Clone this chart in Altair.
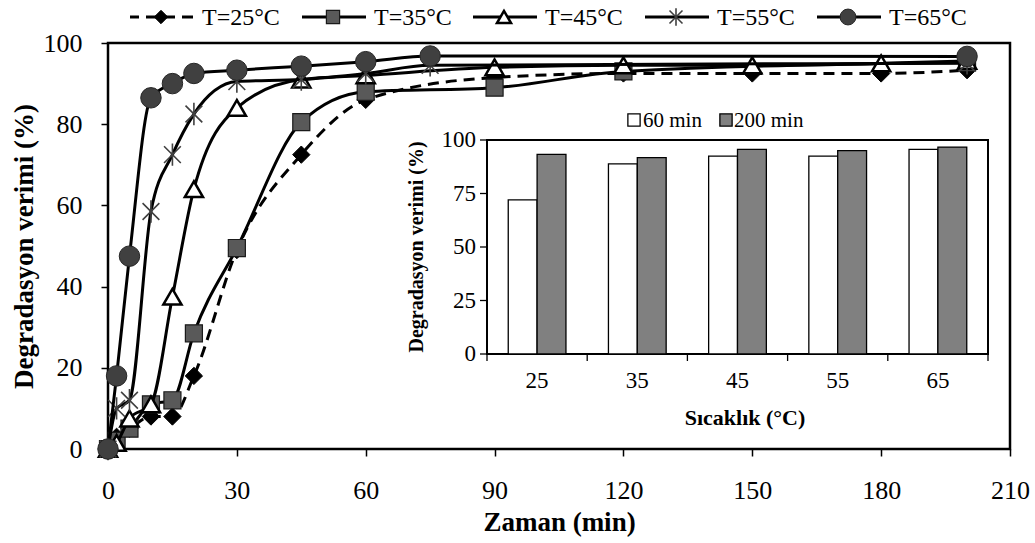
import altair as alt
import pandas as pd

# ---------------- data ----------------
t_25 = [0, 2, 5, 10, 15, 20, 30, 45, 60, 90, 120, 150, 180, 200]
y_25 = [0, 3, 5, 8, 8, 18, 49, 72.5, 86, 91.5, 92.5, 92.5, 92.5, 93.3]
t_35 = [0, 2, 5, 10, 15, 20, 30, 45, 60, 90, 120, 200]
y_35 = [0, 2, 5, 11, 12, 28.5, 49.5, 80.5, 88, 89, 93, 95.2]
t_45 = [0, 2, 5, 10, 15, 20, 30, 45, 60, 90, 120, 150, 180, 200]
y_45 = [0, 1.5, 7.5, 11, 37.5, 64, 84, 91, 92, 94, 94.5, 94.5, 95, 95.6]
t_55 = [0, 2, 5, 10, 15, 20, 30, 45, 60, 75, 200]
y_55 = [0, 10, 12, 58.5, 72.5, 82.5, 90.5, 91, 92.5, 94.5, 95]
t_65 = [0, 2, 5, 10, 15, 20, 30, 45, 60, 75, 200]
y_65 = [0, 18, 47.5, 86.5, 90, 92.5, 93.3, 94.3, 95.4, 96.8, 96.7]
series_labels = ["T=25°C", "T=35°C", "T=45°C", "T=55°C", "T=65°C"]

x_ticks = [0, 30, 60, 90, 120, 150, 180, 210]
y_ticks = [0, 20, 40, 60, 80, 100]

inset_temps = [25, 35, 45, 55, 65]
inset_60 = [72.0, 88.8, 92.5, 92.5, 95.6]
inset_200 = [93.3, 91.8, 95.6, 95.0, 96.7]
inset_series = ["60 min", "200 min"]
inset_y_ticks = [0, 25, 50, 75, 100]
inset_band_edges = [20, 30, 40, 50, 60, 70]

# ---------------- styles ----------------
FONT = "Liberation Serif"
STAR = "M-0.75,-0.75L0.75,0.75M-0.75,0.75L0.75,-0.75M0,-1L0,1"
styles = [
    dict(shape="diamond", size=300, fill="black", stroke="black", sw=1, dash=[11, 7], filled=True),
    dict(shape="square", size=290, fill="#595959", stroke="#1a1a1a", sw=1.2, dash=None, filled=True),
    dict(shape="triangle-up", size=330, fill="white", stroke="black", sw=2.5, dash=None, filled=True),
    dict(shape=STAR, size=500, fill=None, stroke="#404040", sw=1.6, dash=None, filled=False),
    dict(shape="circle", size=420, fill="#404040", stroke="#262626", sw=1, dash=None, filled=True),
]
legend_centers = [53, 225, 396, 568, 740]
LEG_Y = -26
W, H = 902, 406

x_scale = alt.Scale(domain=[0, 210], nice=False, zero=False)
y_scale = alt.Scale(domain=[0, 100], nice=False)
x_axis = alt.Axis(values=x_ticks, title="Zaman (min)", grid=False, domain=False,
                  tickSize=7, tickColor="black", tickWidth=1.5,
                  labelFont=FONT, labelFontSize=26, labelColor="black",
                  labelBaseline="alphabetic", labelPadding=42, labelFlush=False,
                  titleFont=FONT, titleFontSize=27, titleFontWeight="bold", titleColor="black",
                  titleBaseline="alphabetic", titleY=81, titleX=W / 2, titleAlign="center")
y_axis = alt.Axis(values=y_ticks, title="Degradasyon verimi (%)", grid=False, domain=False,
                  tickSize=7, tickColor="black", tickWidth=1.5,
                  labelFont=FONT, labelFontSize=26, labelColor="black", labelPadding=19,
                  labelFlush=False,
                  titleFont=FONT, titleFontSize=27, titleFontWeight="bold", titleColor="black",
                  titleBaseline="alphabetic", titleX=-76, titleY=H / 2, titleAlign="center",
                  titleAngle=270)

series = [(t_25, y_25), (t_35, y_35), (t_45, y_45), (t_55, y_55), (t_65, y_65)]
main_layers = []
for (ts, vs), lab, st in zip(series, series_labels, styles):
    df = pd.DataFrame({"t": ts, "v": vs, "s": lab})
    line_kw = dict(color="black", strokeWidth=3, interpolate="monotone")
    if st["dash"]:
        line_kw["strokeDash"] = st["dash"]
    enc = dict(x=alt.X("t:Q", scale=x_scale, axis=x_axis),
               y=alt.Y("v:Q", scale=y_scale, axis=y_axis))
    main_layers.append(alt.Chart(df).mark_line(**line_kw).encode(**enc))
    pt_kw = dict(shape=st["shape"], size=st["size"], stroke=st["stroke"],
                 strokeWidth=st["sw"], opacity=1, filled=st["filled"])
    if st["fill"]:
        pt_kw["fill"] = st["fill"]
    main_layers.append(alt.Chart(df).mark_point(**pt_kw).encode(**enc))

# custom legend above the plot
for lab, st, c in zip(series_labels, styles, legend_centers):
    ldf = pd.DataFrame({"label": [lab]})
    rule_kw = dict(color="black", strokeWidth=3)
    if st["dash"]:
        rule_kw["strokeDash"] = st["dash"]
        rule_kw["strokeDashOffset"] = 2
    main_layers.append(alt.Chart(ldf).mark_rule(**rule_kw).encode(
        x=alt.value(c - 31), x2=alt.value(c + 33), y=alt.value(LEG_Y)))
    pt_kw = dict(shape=st["shape"], size=st["size"] * 0.6, stroke=st["stroke"],
                 strokeWidth=st["sw"], opacity=1, filled=st["filled"])
    if st["fill"]:
        pt_kw["fill"] = st["fill"]
    main_layers.append(alt.Chart(ldf).mark_point(**pt_kw).encode(
        x=alt.value(c), y=alt.value(LEG_Y)))
    main_layers.append(alt.Chart(ldf).mark_text(
        align="left", baseline="middle", font=FONT, fontSize=24, color="black").encode(
        x=alt.value(c + 41), y=alt.value(LEG_Y + 1), text="label:N"))

main = alt.layer(*main_layers)

# ---------------- inset bar chart ----------------
IX0, IX1, IY0, IY1 = 379, 880, 97, 311
ix_scale = alt.Scale(domain=[20, 70], range=[IX0, IX1], nice=False, zero=False)
iy_scale = alt.Scale(domain=[0, 100], range=[IY1, IY0], nice=False)
BW = 2.88  # bar width in temperature units

bar_df = pd.DataFrame({
    "temp": inset_temps * 2,
    "v": inset_60 + inset_200,
    "s": [inset_series[0]] * 5 + [inset_series[1]] * 5,
})
one = pd.DataFrame({"k": [0]})
fill_scale = alt.Scale(domain=inset_series, range=["white", "#808080"])

frame = alt.Chart(one).mark_rect(fill="white", stroke="black", strokeWidth=2).encode(
    x=alt.value(IX0), x2=alt.value(IX1), y=alt.value(IY0), y2=alt.value(IY1))
bars = alt.Chart(bar_df).transform_calculate(
    x0=f"datum.s == '60 min' ? datum.temp - {BW} : datum.temp",
).transform_calculate(
    x1=f"datum.x0 + {BW}"
).mark_bar(stroke="black", strokeWidth=1.3).encode(
    x=alt.X("x0:Q", scale=ix_scale, axis=None),
    x2="x1:Q",
    y=alt.Y("v:Q", scale=iy_scale, axis=None, stack=None),
    y2=alt.datum(0),
    fill=alt.Fill("s:N", scale=fill_scale, legend=None),
)
ytick_df = pd.DataFrame({"v": inset_y_ticks})
yticks = alt.Chart(ytick_df).mark_rule(color="black", strokeWidth=1.3).encode(
    y=alt.Y("v:Q", scale=iy_scale, axis=None), x=alt.value(IX0 - 7), x2=alt.value(IX0))
ylabels = alt.Chart(ytick_df).mark_text(align="right", baseline="middle", font=FONT,
                                        fontSize=23, color="black").encode(
    y=alt.Y("v:Q", scale=iy_scale, axis=None), x=alt.value(IX0 - 11), text="v:Q")
edge_df = pd.DataFrame({"b": inset_band_edges})
xticks = alt.Chart(edge_df).mark_rule(color="black", strokeWidth=1.3).encode(
    x=alt.X("b:Q", scale=ix_scale, axis=None), y=alt.value(IY1), y2=alt.value(IY1 + 7))
temp_df = pd.DataFrame({"temp": inset_temps})
xlabels = alt.Chart(temp_df).mark_text(align="center", baseline="middle", font=FONT,
                                       fontSize=23, color="black").encode(
    x=alt.X("temp:Q", scale=ix_scale, axis=None), y=alt.value(IY1 + 27), text="temp:Q")
xtitle = alt.Chart(one).mark_text(align="center", baseline="middle", font=FONT, fontSize=22,
                                  fontWeight="bold", color="black", text="Sıcaklık (°C)").encode(
    x=alt.value(637), y=alt.value(IY1 + 64))
ytitle = alt.Chart(one).mark_text(align="center", baseline="middle", font=FONT, fontSize=20,
                                  fontWeight="bold", color="black", angle=270,
                                  text="Degradasyon verimi (%)").encode(
    x=alt.value(309), y=alt.value((IY0 + IY1) / 2))

leg_layers = []
for name, sq_x, tx_x in zip(inset_series, [526, 618], [535, 626]):
    ldf = pd.DataFrame({"s": [name]})
    leg_layers.append(alt.Chart(ldf).mark_point(shape="square", size=150, filled=True,
                                                stroke="black", strokeWidth=1.3, opacity=1).encode(
        x=alt.value(sq_x), y=alt.value(77),
        fill=alt.Fill("s:N", scale=fill_scale, legend=None)))
    leg_layers.append(alt.Chart(ldf).mark_text(align="left", baseline="middle", font=FONT,
                                               fontSize=21, color="black").encode(
        x=alt.value(tx_x), y=alt.value(78), text="s:N"))

inset = alt.layer(frame, bars, yticks, ylabels, xticks, xlabels, xtitle, ytitle, *leg_layers)

chart = alt.layer(main, inset).resolve_scale(
    x="independent", y="independent", fill="independent"
).properties(
    width=W, height=H,
    autosize=alt.AutoSizeParams(type="none"),
    padding={"left": 108, "top": 43, "right": 1035 - 108 - W, "bottom": 94},
    background="white",
).configure_view(stroke="black", strokeWidth=2.5)

chart.save("out.html", embed_options={"renderer": "svg", "actions": False})
